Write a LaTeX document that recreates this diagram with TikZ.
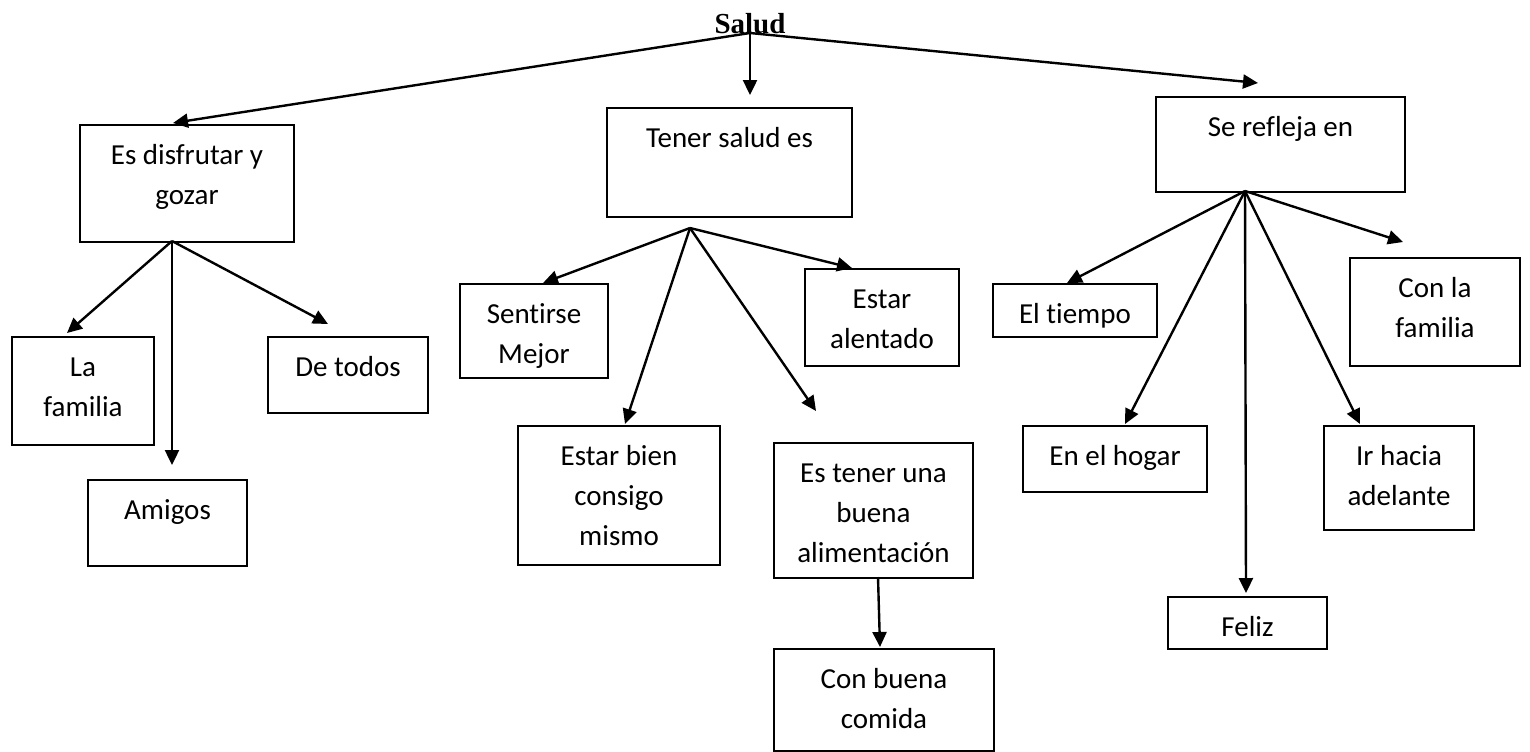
\documentclass[tikz,border=0pt]{standalone}
\usepackage{fontspec}
\setmainfont{Carlito}[Ligatures=NoCommon]
\newfontfamily\saludfont{Liberation Serif}
\usetikzlibrary{arrows.meta}
\newcommand{\caja}[3]{\parbox[t][#2][t]{#1}{\centering\rule{0pt}{19.5pt}#3}}
\tikzset{
    caja/.style={draw, line width=1pt, anchor=north west, inner sep=0pt, font=\fontsize{14.5}{20}\selectfont},
    flecha/.style={line width=1.2pt, -{Triangle[length=7.5pt,width=7pt]}}
}

\begin{document}
\begin{tikzpicture}[x=0.5pt, y=-0.5pt]
            \useasboundingbox (0, 0) rectangle (1530, 751);
            \node[anchor=base, inner sep=0pt, font=\saludfont\bfseries\fontsize{14.5}{16}\selectfont] (salud) at (750, 33) {Salud};
            \node[caja] (disfrutar) at (79, 124) {\caja{107pt}{58.5pt}{Es disfrutar y\\gozar}};
            \node[caja] (tener) at (606, 107) {\caja{122.5pt}{54.5pt}{Tener salud es}};
            \node[caja] (refleja) at (1155, 96) {\caja{124.5pt}{47.5pt}{Se refleja en}};
            \node[caja] (familia) at (11, 336) {\caja{71pt}{54pt}{La\\familia}};
            \node[caja] (amigos) at (87, 479) {\caja{79.5pt}{43pt}{Amigos}};
            \node[caja] (todos) at (267, 336) {\caja{80pt}{38pt}{De todos}};
            \node[caja] (mejor) at (459, 283) {\caja{74pt}{47pt}{Sentirse\\Mejor}};
            \node[caja] (alentado) at (804, 268) {\caja{77pt}{48.5pt}{Estar\\alentado}};
            \node[caja] (bien) at (517, 425) {\caja{101pt}{69.5pt}{Estar bien\\consigo\\mismo}};
            \node[caja] (alimento) at (773, 442) {\caja{99.5pt}{67.5pt}{Es tener una\\buena\\alimentación}};
            \node[caja] (comida) at (773, 648) {\caja{110pt}{51pt}{Con buena\\comida}};
            \node[caja] (tiempo) at (992, 283) {\caja{82pt}{26.5pt}{El tiempo}};
            \node[caja] (hogar) at (1022, 425) {\caja{92pt}{33pt}{En el hogar}};
            \node[caja] (feliz) at (1167, 596) {\caja{79.5pt}{26pt}{Feliz}};
            \node[caja] (adelante) at (1323, 425) {\caja{75pt}{52pt}{Ir hacia\\adelante}};
            \node[caja] (confam) at (1349, 257) {\caja{85pt}{54pt}{Con la\\familia}};
            \coordinate (hubA) at (172, 241);
            \coordinate (hubB) at (690, 228);
            \coordinate (hubC) at (1245, 191);
            \coordinate (pDisfrutar) at (173, 123);
            \coordinate (pTener) at (750, 95);
            \coordinate (pRefleja) at (1258, 83);
            \coordinate (pFamilia) at (67, 333);
            \coordinate (pAmigos) at (172, 465);
            \coordinate (pTodos) at (328, 324);
            \coordinate (pMejor) at (543, 283);
            \coordinate (pAlentado) at (852, 268);
            \coordinate (pBien) at (625, 424);
            \coordinate (pAlimento) at (816, 411);
            \coordinate (pSale) at (878, 577);
            \coordinate (pComida) at (880, 647);
            \coordinate (pTiempo) at (1067, 283);
            \coordinate (pHogar) at (1125, 424);
            \coordinate (pFeliz) at (1246, 593);
            \coordinate (pAdelante) at (1360, 424);
            \coordinate (pConfam) at (1403, 242);
            \draw[flecha] (salud.base) -- (pDisfrutar);
            \draw[flecha] (salud.base) -- (pTener);
            \draw[flecha] (salud.base) -- (pRefleja);
            \draw[flecha] (hubA) -- (pFamilia);
            \draw[flecha] (hubA) -- (pAmigos);
            \draw[flecha] (hubA) -- (pTodos);
            \draw[flecha] (hubB) -- (pMejor);
            \draw[flecha] (hubB) -- (pAlentado);
            \draw[flecha] (hubB) -- (pBien);
            \draw[flecha] (hubB) -- (pAlimento);
            \draw[flecha] (pSale) -- (pComida);
            \draw[flecha] (hubC) -- (pTiempo);
            \draw[flecha] (hubC) -- (pHogar);
            \draw[flecha] (hubC) -- (pFeliz);
            \draw[flecha] (hubC) -- (pAdelante);
            \draw[flecha] (hubC) -- (pConfam);
        \end{tikzpicture}
\end{document}
